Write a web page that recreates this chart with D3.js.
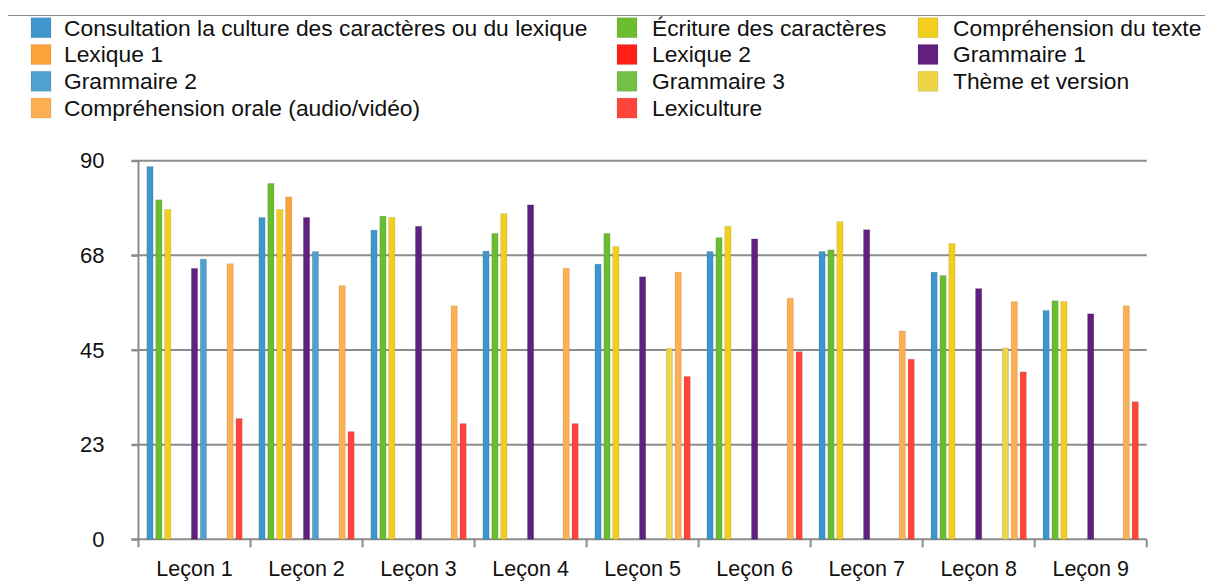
<!DOCTYPE html>
<html lang="fr">
<head>
  <meta charset="utf-8">
  <title>Leçons</title>
  <script src="https://d3js.org/d3.v7.min.js"></script>
  <style>
    body { margin: 0; background: #fff; }
    svg text { font-family: "Liberation Sans", Arial, Helvetica, sans-serif; fill: #111; }
  </style>
</head>
<body>
<svg width="1205" height="585"></svg>
<script>

// ---- data ----
var lessons = ["Leçon 1", "Leçon 2", "Leçon 3", "Leçon 4", "Leçon 5", "Leçon 6", "Leçon 7", "Leçon 8", "Leçon 9"];

var seriesNames = [
  "Consultation la culture des caractères ou du lexique",
  "Écriture des caractères",
  "Compréhension du texte",
  "Lexique 1",
  "Lexique 2",
  "Grammaire 1",
  "Grammaire 2",
  "Grammaire 3",
  "Thème et version",
  "Compréhension orale (audio/vidéo)",
  "Lexiculture"
];

var consultation = [88.6, 76.5, 73.5, 68.5, 65.4, 68.4, 68.4, 63.5, 54.4];
var ecriture     = [80.7, 84.6, 76.8, 72.7, 72.7, 71.7, 68.8, 62.7, 56.7];
var comprTexte   = [78.4, 78.4, 76.5, 77.4, 69.6, 74.4, 75.5, 70.3, 56.5];
var lexique1     = [null, 81.4, null, null, null, null, null, null, null];
var lexique2     = [null, null, null, null, null, null, null, null, null];
var grammaire1   = [64.4, 76.5, 74.4, 79.5, 62.4, 71.4, 73.6, 59.6, 53.6];
var grammaire2   = [66.6, 68.4, null, null, null, null, null, null, null];
var grammaire3   = [null, null, null, null, null, null, null, null, null];
var theme        = [null, null, null, null, 45.4, null, null, 45.5, null];
var comprOrale   = [65.5, 60.3, 55.5, 64.4, 63.5, 57.3, 49.5, 56.5, 55.5];
var lexiculture  = [28.7, 25.6, 27.5, 27.5, 38.7, 44.6, 42.8, 39.8, 32.7];

var seriesValues = [consultation, ecriture, comprTexte, lexique1, lexique2,
                    grammaire1, grammaire2, grammaire3, theme, comprOrale, lexiculture];

var seriesColors = ["#3f96cc", "#6bbd2f", "#f2cf1f", "#fca338", "#ff2019",
                    "#611f80", "#4fa2d0", "#74c047", "#eed448", "#fdb052", "#ff453a"];

var yTicks = [0, 22.5, 45, 67.5, 90];
var yTickLabels = ["0", "23", "45", "68", "90"];

// ---- layout ----
// (don't call these top/left: window.top is read-only)
var svg = d3.select("svg");
var plotLeft = 138.5, plotRight = 1146.7, plotTop = 160.7, plotBottom = 539.3;

var x0 = d3.scaleBand().domain(lessons).range([plotLeft, plotRight]);
var x1 = d3.scaleBand().domain(seriesNames).range([7, 105]).paddingInner(0.3).paddingOuter(0.15);
var y = d3.scaleLinear().domain([0, 90]).range([plotBottom, plotTop]);
var color = d3.scaleOrdinal().domain(seriesNames).range(seriesColors);

// thin rule across the top
svg.append("line")
    .attr("x1", 8).attr("x2", 1205).attr("y1", 15.5).attr("y2", 15.5)
    .attr("stroke", "#8c8c8c").attr("stroke-width", 1.2);

// ---- legend (3 columns, filled row by row) ----
var legendCols = [{sx: 31, tx: 64}, {sx: 617, tx: 652}, {sx: 918, tx: 953}];
var legend = svg.append("g").selectAll("g")
    .data(seriesNames)
    .enter().append("g")
      .attr("transform", function(d, i) {
        return "translate(0," + (27.7 + Math.floor(i / 3) * 26.8) + ")";
      });

legend.append("rect")
    .attr("x", function(d, i) { return legendCols[i % 3].sx; })
    .attr("y", -10).attr("width", 20).attr("height", 20)
    .attr("fill", function(d) { return color(d); })
    .attr("stroke", "rgba(0,0,0,0.08)");

legend.append("text")
    .attr("x", function(d, i) { return legendCols[i % 3].tx; })
    .attr("dy", "0.35em")
    .style("font-size", "22.8px")
    .text(function(d) { return d; });

// ---- gridlines ----
svg.append("g").selectAll("line")
    .data(yTicks)
    .enter().append("line")
      .attr("x1", plotLeft - 7).attr("x2", plotRight)
      .attr("y1", function(d) { return y(d); })
      .attr("y2", function(d) { return y(d); })
      .attr("stroke", "#8c8c8c").attr("stroke-width", 2);

// ---- y axis ----
var yAxis = svg.append("g")
    .attr("transform", "translate(" + plotLeft + ",0)")
    .call(d3.axisLeft(y)
      .tickValues(yTicks)
      .tickFormat(function(d, i) { return yTickLabels[i]; })
      .tickSize(7)
      .tickPadding(27));
yAxis.select(".domain").remove();
yAxis.selectAll("line").attr("stroke", "#8c8c8c").attr("stroke-width", 2);
yAxis.selectAll("text").style("font-size", "22px").attr("fill", "#111");

svg.append("line")
    .attr("x1", plotLeft).attr("x2", plotLeft).attr("y1", plotTop).attr("y2", plotBottom + 8)
    .attr("stroke", "#8c8c8c").attr("stroke-width", 2);

// ---- x axis ----
var xAxis = svg.append("g")
    .attr("transform", "translate(0," + plotBottom + ")")
    .call(d3.axisBottom(x0).tickSize(0).tickPadding(21));
xAxis.select(".domain").remove();
xAxis.selectAll("text").style("font-size", "21.5px").attr("fill", "#111");

// category boundary ticks
svg.append("g").selectAll("line")
    .data(lessons.slice(1).concat(["end"]))
    .enter().append("line")
      .attr("x1", function(d) { return d === "end" ? plotRight : x0(d); })
      .attr("x2", function(d) { return d === "end" ? plotRight : x0(d); })
      .attr("y1", plotBottom).attr("y2", plotBottom + 8)
      .attr("stroke", "#8c8c8c").attr("stroke-width", 2);

// ---- bars ----
var groups = svg.append("g").selectAll("g")
    .data(lessons)
    .enter().append("g")
      .attr("transform", function(d) { return "translate(" + x0(d) + ",0)"; });

groups.selectAll("rect")
    .data(function(d, li) {
      return seriesNames.map(function(s, si) { return {key: s, value: seriesValues[si][li]}; })
        .filter(function(e) { return e.value != null; });
    })
    .enter().append("rect")
      .attr("x", function(d) { return x1(d.key); })
      .attr("width", x1.bandwidth())
      .attr("y", function(d) { return y(d.value); })
      .attr("height", function(d) { return y(0) - y(d.value); })
      .attr("fill", function(d) { return color(d.key); })
      .attr("stroke", "rgba(0,0,0,0.1)")
      .attr("stroke-width", 1);

</script>
</body>
</html>
